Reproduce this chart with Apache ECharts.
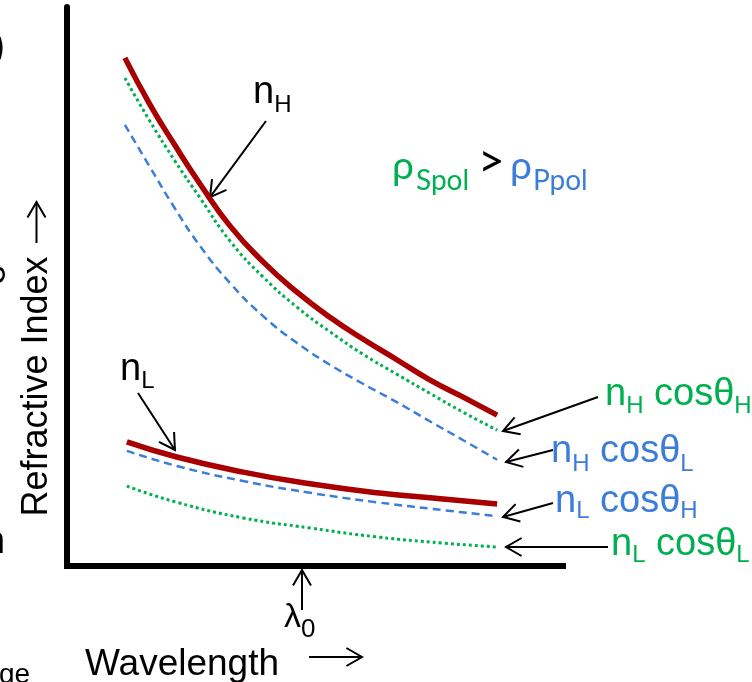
<!DOCTYPE html>
<html><head><meta charset="utf-8">
<script src="https://cdn.jsdelivr.net/npm/echarts@6/dist/echarts.min.js"></script>
<style>html,body{margin:0;padding:0;background:#fff}#c{width:752px;height:682px}</style>
</head><body><div id="c"></div>
<script>
// ---- data (arbitrary units: wavelength 0..100, refractive index 0..100) ----
const upperX = [11.6, 16.6, 21.6, 26.7, 32.7, 39.3, 46.1, 52.7, 59.3, 66.1, 72.7, 79.4, 86.2];
const nH     = [90.9, 82.6, 75.3, 68.3, 60.8, 54.4, 49.0, 44.5, 40.6, 36.9, 33.3, 30.2, 27.0];
const nHcosH = [87.3, 79.6, 72.5, 65.8, 58.1, 51.7, 46.3, 41.9, 37.9, 34.3, 30.9, 27.5, 24.3];
const nHcosL = [78.9, 71.4, 64.0, 57.2, 50.6, 44.7, 39.9, 36.0, 32.6, 29.3, 25.9, 22.5, 19.0];
const lowerX = [12.0, 22.0, 35.3, 48.7, 62.1, 75.4, 86.2];
const nL     = [22.2, 19.5, 16.8, 14.7, 13.1, 12.0, 11.1];
const nLcosH = [20.6, 17.9, 15.2, 13.1, 11.4, 10.0, 8.9];
const nLcosL = [14.3, 11.4, 8.6, 6.8, 5.2, 4.1, 3.4];
// annotation arrow tips (data coords)
const tipNH = [28.66, 66.0];
const tipNL = [21.64, 20.75];
const tipNHcosH = [87.37, 24.15];
const tipNHcosL = [87.98, 18.6];
const tipNLcosH = [87.37, 8.77];
const tipNLcosL = [87.98, 3.4];
const tipLambda = [47.09, -0.72];

const RED = '#a80000', GREEN = '#00b050', BLUE = '#3b7dd8';
const SANS = "'Liberation Sans', Arial, sans-serif";
const CAL = "Lato, 'Noto Sans', sans-serif";

const chart = echarts.init(document.getElementById('c'), null, {renderer: 'canvas'});
const pairs = (xs, ys) => xs.map((x, i) => [x, ys[i]]);
const hid = {axisTick: {show: false}, axisLabel: {show: false}, splitLine: {show: false}};
chart.setOption({
  animation: false,
  grid: {left: 67, right: 189, top: 7, bottom: 116},
  xAxis: Object.assign({type: 'value', min: 0, max: 99.4,
    axisLine: {show: true, onZero: false, lineStyle: {color: '#000', width: 6, cap: 'square'}}}, hid),
  yAxis: Object.assign({type: 'value', min: 0, max: 100,
    axisLine: {show: true, onZero: false, lineStyle: {color: '#000', width: 6}}}, hid),
  series: [
    {type: 'line', data: pairs(upperX, nHcosL), smooth: true, symbol: 'none', lineStyle: {color: BLUE, width: 2.5, type: [8, 5]}},
    {type: 'line', data: pairs(upperX, nHcosH), smooth: true, symbol: 'none', lineStyle: {color: GREEN, width: 3, type: [3, 3]}},
    {type: 'line', data: pairs(upperX, nH), smooth: true, symbol: 'none', lineStyle: {color: RED, width: 5.5}},
    {type: 'line', data: pairs(lowerX, nLcosL), smooth: true, symbol: 'none', lineStyle: {color: GREEN, width: 3, type: [3, 3]}},
    {type: 'line', data: pairs(lowerX, nLcosH), smooth: true, symbol: 'none', lineStyle: {color: BLUE, width: 2.5, type: [8, 5]}},
    {type: 'line', data: pairs(lowerX, nL), smooth: true, symbol: 'none', lineStyle: {color: RED, width: 5.5}}
  ]
});

// ---- annotation helpers ----
const ctx = document.createElement('canvas').getContext('2d');
function tw(t, size, fam) { ctx.font = size + 'px ' + fam; return ctx.measureText(t).width; }
function midOff(size, fam) {
  ctx.font = size + 'px ' + fam;
  ctx.textBaseline = 'alphabetic'; const a = ctx.measureText('n').fontBoundingBoxAscent;
  ctx.textBaseline = 'middle'; const b = ctx.measureText('n').fontBoundingBoxAscent;
  ctx.textBaseline = 'alphabetic';
  const d = a - b; return (isFinite(d) && d > 0) ? d : 0.31 * size;
}
function txt(t, x, base, size, color, fam, extra) {
  return Object.assign({type: 'text', x: x, y: base - midOff(size, fam), silent: true,
    style: {text: t, font: size + 'px ' + fam, fill: color, align: 'left', textAlign: 'left',
      verticalAlign: 'middle', textVerticalAlign: 'middle'}}, extra || {});
}
function label(x0, base, segs, fam) {
  let x = x0; const out = [];
  segs.forEach(([t, size, dy, color]) => { out.push(txt(t, x, base + dy, size, color, fam)); x += tw(t, size, fam); });
  return out;
}
function arrow(x1, y1, x2, y2, lw) {
  const a = Math.atan2(y2 - y1, x2 - x1), L = 18, h = Math.PI / 6;
  const p1 = [x2 - L * Math.cos(a - h), y2 - L * Math.sin(a - h)];
  const p2 = [x2 - L * Math.cos(a + h), y2 - L * Math.sin(a + h)];
  return [
    {type: 'line', silent: true, shape: {x1: x1, y1: y1, x2: x2, y2: y2}, style: {stroke: '#000', lineWidth: lw}},
    {type: 'polyline', silent: true, shape: {points: [p1, [x2, y2], p2]}, style: {stroke: '#000', lineWidth: lw, fill: null}}
  ];
}
const P = d => chart.convertToPixel({gridIndex: 0}, d);

let els = [];
// arrows to curves
[[tipNH, [266, 121]], [tipNL, [138, 393]], [tipNHcosH, [598, 397]], [tipNHcosL, [553, 450]],
 [tipNLcosH, [553, 503]], [tipNLcosL, [608, 547]], [tipLambda, [302, 610]]].forEach(([tip, tail]) => {
  const p = P(tip); els = els.concat(arrow(tail[0], tail[1], p[0], p[1], 2));
});
// axis direction arrows
els = els.concat(arrow(36.5, 243, 36.5, 202, 2));
els = els.concat(arrow(309, 657, 362, 657, 2));

// labels
els = els.concat(label(253, 103, [['n', 38, 0, '#000'], ['H', 24, 9, '#000']], SANS));
els = els.concat(label(120, 380, [['n', 38, 0, '#000'], ['L', 24, 8, '#000']], SANS));
els = els.concat(label(605, 405, [['n', 38, 0, GREEN], ['H', 24, 8, GREEN], [' cos', 38, 0, GREEN], ['θ', 38, 0, GREEN], ['H', 24, 8, GREEN]], SANS));
els = els.concat(label(551, 462, [['n', 38, 0, BLUE], ['H', 24, 9, BLUE], [' cos', 38, 0, BLUE], ['θ', 38, 0, BLUE], ['L', 24, 9, BLUE]], SANS));
els = els.concat(label(555, 512, [['n', 38, 0, BLUE], ['L', 24, 6, BLUE], [' cos', 38, 0, BLUE], ['θ', 38, 0, BLUE], ['H', 24, 6, BLUE]], SANS));
els = els.concat(label(611, 555, [['n', 38, 0, GREEN], ['L', 24, 7, GREEN], [' cos', 38, 0, GREEN], ['θ', 38, 0, GREEN], ['L', 24, 7, GREEN]], SANS));
// rho label
els.push(txt('ρ', 392, 179, 39, GREEN, CAL));
els.push(txt('Spol', 416, 190, 28, GREEN, CAL));
els.push(txt('>', 478, 177, 46, '#000', CAL));
els.push(txt('ρ', 510, 179, 39, BLUE, CAL));
els.push(txt('Ppol', 533, 190, 28, BLUE, CAL));
// lambda0
els.push(txt('λ', 284, 627, 34, '#000', SANS));
els.push(txt('0', 284 + tw('λ', 34, SANS), 637, 26, '#000', SANS));
// axis titles
els.push(txt('Wavelength', 85, 675, 37, '#000', SANS));
els.push({type: 'text', x: 47 - midOff(36, SANS), y: 386.5, rotation: Math.PI / 2, silent: true,
  style: {text: 'Refractive Index', font: '36px ' + SANS, fill: '#000', align: 'center', textAlign: 'center',
    verticalAlign: 'middle', textVerticalAlign: 'middle'}});
// cut-off fragments from neighbouring panels
els.push({type: 'text', x: 5, y: 48, silent: true,
  style: {text: ')', font: '40px ' + SANS, fill: '#000', align: 'right', textAlign: 'right', verticalAlign: 'middle', textVerticalAlign: 'middle'}});
els.push({type: 'text', x: 5 - midOff(36, SANS), y: 275, rotation: Math.PI / 2, silent: true,
  style: {text: 'e', font: '36px ' + SANS, fill: '#000', align: 'center', textAlign: 'center', verticalAlign: 'middle', textVerticalAlign: 'middle'}});
els.push(Object.assign(txt('n', 0, 553, 38, '#000', SANS), {x: -16}));
els.push(txt('ge', -1, 683, 28, '#000', SANS));

chart.setOption({graphic: {elements: els}});
</script>
</body></html>
